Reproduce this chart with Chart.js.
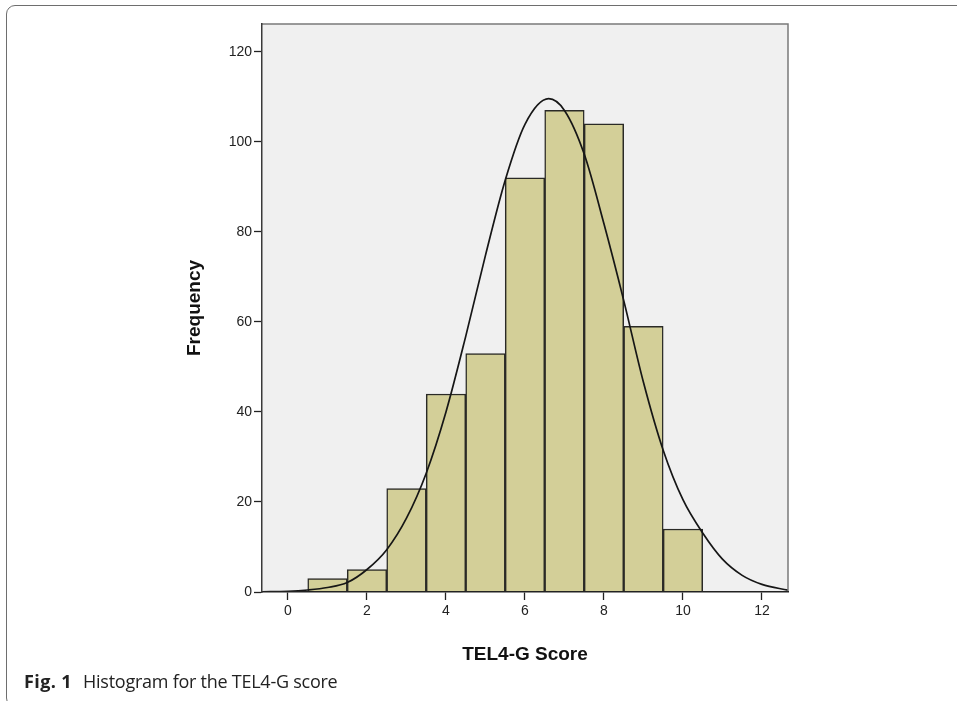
<!DOCTYPE html>
<html>
<head>
<meta charset="utf-8">
<script src="https://cdn.jsdelivr.net/npm/chart.js@4/dist/chart.umd.min.js"></script>
<style>
  html, body { margin: 0; padding: 0; background: #ffffff; }
  body { width: 957px; height: 701px; position: relative; overflow: hidden; }
  #frame { position: absolute; left: 6px; top: 5px; width: 1000px; height: 702px;
           border: 1.3px solid #6e6e6e; border-radius: 9px; box-sizing: border-box; }
  #wrap { position: absolute; left: 0; top: 0; width: 957px; height: 701px; }
  #caption { position: absolute; left: 24px; top: 669px; font-family: "Open Sans", "Noto Sans", sans-serif;
             font-size: 18px; line-height: 25px; color: #222; white-space: nowrap; letter-spacing: -0.25px; }
  #caption b { font-weight: 700; margin-right: 11px; letter-spacing: 0.4px; }
</style>
</head>
<body>
<div id="frame"></div>
<div id="wrap"><canvas id="c" width="957" height="701"></canvas></div>
<div id="caption"><b>Fig. 1</b>Histogram for the TEL4-G score</div>
<script>
// ---- data ----
const scoreBins   = [1, 2, 3, 4, 5, 6, 7, 8, 9, 10];
const frequencies = [3, 5, 23, 44, 53, 92, 107, 104, 59, 14];

// normal curve
const curveX = [-0.66, 0, 0.5, 1, 1.5, 2, 2.5, 3, 3.5, 4, 4.5, 5, 5.5, 6, 6.6, 7, 7.5, 8, 8.5, 9, 9.5, 10, 10.5, 11, 11.5, 12, 12.66];
const curveY = [0.05, 0.15, 0.45, 1.0, 2.1, 5.0, 9.4, 16.4, 26.4, 40, 56.8, 74.8, 91.5, 103.9, 109.6, 107, 97.3, 81.8, 64.8, 46.6, 31.5, 20.5, 13.1, 7.3, 3.7, 1.7, 0.4];

const xTicks = [0, 2, 4, 6, 8, 10, 12];
const yTicks = [0, 20, 40, 60, 80, 100, 120];

const xTitle = "TEL4-G Score";
const yTitle = "Frequency";

// ---- chart ----
const barData = scoreBins.map((x, i) => ({ x: x, y: frequencies[i] }));
const curveData = curveX.map((x, i) => ({ x: x, y: curveY[i] }));

const plotFrame = {
  id: 'plotFrame',
  beforeDatasetsDraw(chart) {
    const a = chart.chartArea, ctx = chart.ctx;
    ctx.save();
    ctx.fillStyle = '#f0f0f0';
    ctx.fillRect(a.left, a.top, a.right - a.left, a.bottom - a.top);
    ctx.restore();
  },
  afterDatasetsDraw(chart) {
    const a = chart.chartArea, ctx = chart.ctx;
    ctx.save();
    ctx.strokeStyle = '#7a7a7a';
    ctx.lineWidth = 1.5;
    ctx.beginPath();
    ctx.moveTo(a.left, a.top);
    ctx.lineTo(a.right, a.top);
    ctx.lineTo(a.right, a.bottom);
    ctx.stroke();
    ctx.restore();
  }
};

const tickFont = { family: '"Liberation Sans", Arial, sans-serif', size: 14 };
const titleFont = { family: '"Liberation Sans", Arial, sans-serif', size: 19, weight: 'bold' };

new Chart(document.getElementById('c'), {
  type: 'bar',
  data: {
    datasets: [
      {
        type: 'line',
        data: curveData,
        borderColor: '#161616',
        borderWidth: 1.7,
        pointRadius: 0,
        fill: false,
        cubicInterpolationMode: 'monotone',
        order: 0
      },
      {
        type: 'bar',
        data: barData,
        backgroundColor: '#d3cf98',
        borderColor: '#2a2a26',
        borderWidth: 1.5,
        barPercentage: 1.0,
        categoryPercentage: 1.0,
        order: 1
      }
    ]
  },
  options: {
    responsive: false,
    animation: false,
    events: [],
    layout: { padding: { left: 0, right: 169, top: 24, bottom: 0 } },
    plugins: { legend: { display: false }, tooltip: { enabled: false } },
    scales: {
      x: {
        type: 'linear',
        min: -0.658,
        max: 12.66,
        offset: false,
        afterBuildTicks(s) { s.ticks = xTicks.map(v => ({ value: v })); },
        afterFit(s) { s.height = 109; },
        grid: { offset: false, drawOnChartArea: false, drawTicks: true, tickLength: 8, tickColor: '#222', tickWidth: 1.3 },
        border: { display: true, color: '#222', width: 1.5, z: 1 },
        ticks: { font: tickFont, color: '#222', padding: 3, maxRotation: 0, autoSkip: false },
        title: { display: true, text: xTitle, font: titleFont, color: '#111', padding: { top: 0, bottom: 34.6 } }
      },
      y: {
        type: 'linear',
        min: 0,
        max: 126.2,
        afterBuildTicks(s) { s.ticks = yTicks.map(v => ({ value: v })); },
        afterFit(s) { s.width = 262; },
        grid: { offset: false, drawOnChartArea: false, drawTicks: true, tickLength: 8, tickColor: '#222', tickWidth: 1.3 },
        border: { display: true, color: '#3a3a3a', width: 1.5, z: 1 },
        ticks: { font: tickFont, color: '#222', padding: 2 },
        title: { display: true, text: yTitle, font: titleFont, color: '#111', padding: { top: 183.6, bottom: 0 } }
      }
    }
  },
  plugins: [plotFrame]
});
</script>
</body>
</html>
